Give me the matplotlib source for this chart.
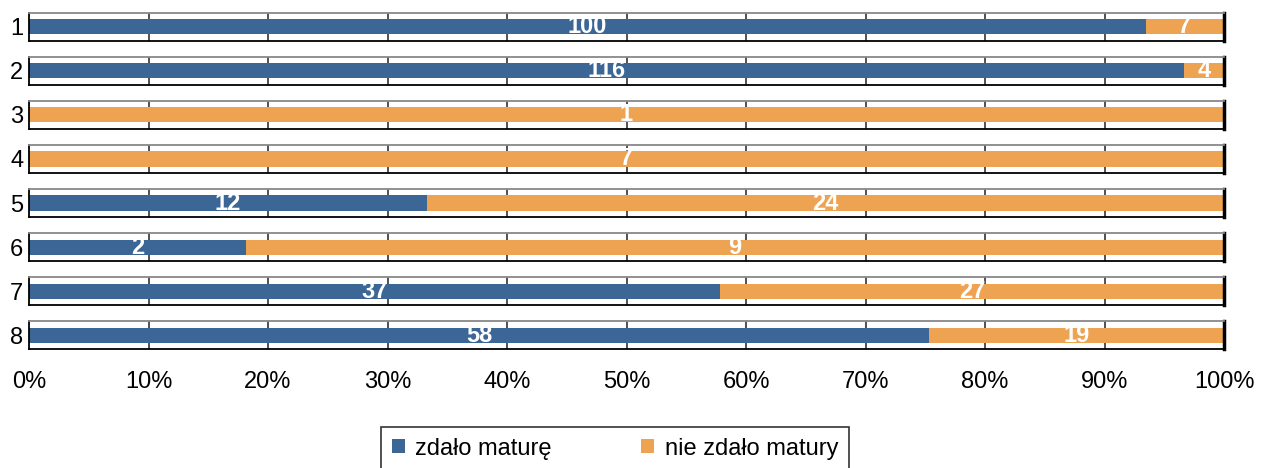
import matplotlib.pyplot as plt
import numpy as np

plt.rcParams['font.family'] = ['Liberation Sans', 'DejaVu Sans']

# data
rows = ['1', '2', '3', '4', '5', '6', '7', '8']
passed = [100, 116, 0, 0, 12, 2, 37, 58]
failed = [7, 4, 1, 7, 24, 9, 27, 19]
series_names = ['zdało maturę', 'nie zdało matury']
ticks = [0, 10, 20, 30, 40, 50, 60, 70, 80, 90, 100]
tick_labels = ['%d%%' % t for t in ticks]

blue = '#3b6696'
orange = '#eea352'

fig, axes = plt.subplots(len(rows), 1, figsize=(12.62, 4.68), dpi=100)
fig.subplots_adjust(left=29/1262, right=1224/1262, top=1-13/468, bottom=1-349/468, hspace=0.6)

for i, ax in enumerate(axes):
    p, f = passed[i], failed[i]
    tot = p + f
    pp, fp = 100 * p / tot, 100 * f / tot
    ax.set_xlim(0, 100)
    ax.set_ylim(-0.5, 0.5)
    for t in ticks[1:-1]:
        ax.axvline(t, color='#333333', lw=1.2, zorder=1)
    b1 = ax.barh(0, pp, height=0.55, color=blue, zorder=2)
    b2 = ax.barh(0, fp, left=pp, height=0.55, color=orange, zorder=2)
    if p > 0:
        ax.text(pp / 2, 0, str(p), color='white', fontsize=17, fontweight='bold',
                ha='center', va='center', zorder=3)
    if f > 0:
        ax.text(pp + fp / 2, 0, str(f), color='white', fontsize=17, fontweight='bold',
                ha='center', va='center', zorder=3)
    ax.set_yticks([0])
    ax.set_yticklabels([rows[i]], fontsize=17)
    ax.tick_params(axis='y', length=0, pad=4)
    for s in ax.spines.values():
        s.set_color('black')
        s.set_linewidth(1.3)
    ax.spines['top'].set_color('#888888')
    ax.spines['right'].set_linewidth(2.5)
    if i < len(rows) - 1:
        ax.set_xticks([])
    else:
        ax.set_xticks(ticks)
        ax.set_xticklabels(tick_labels, fontsize=17)
        ax.tick_params(axis='x', length=0, pad=16)

leg = fig.legend([b1, b2], series_names, loc='upper center', ncol=2,
                 bbox_to_anchor=(615/1262, 1 - 427/468), fontsize=17,
                 frameon=True, fancybox=False, edgecolor='black',
                 handlelength=0.55, handleheight=0.55, columnspacing=3.8,
                 borderpad=0.45, handletextpad=0.45, borderaxespad=0)
leg.get_frame().set_linewidth(1.2)

fig.savefig('out.png', dpi=100)
